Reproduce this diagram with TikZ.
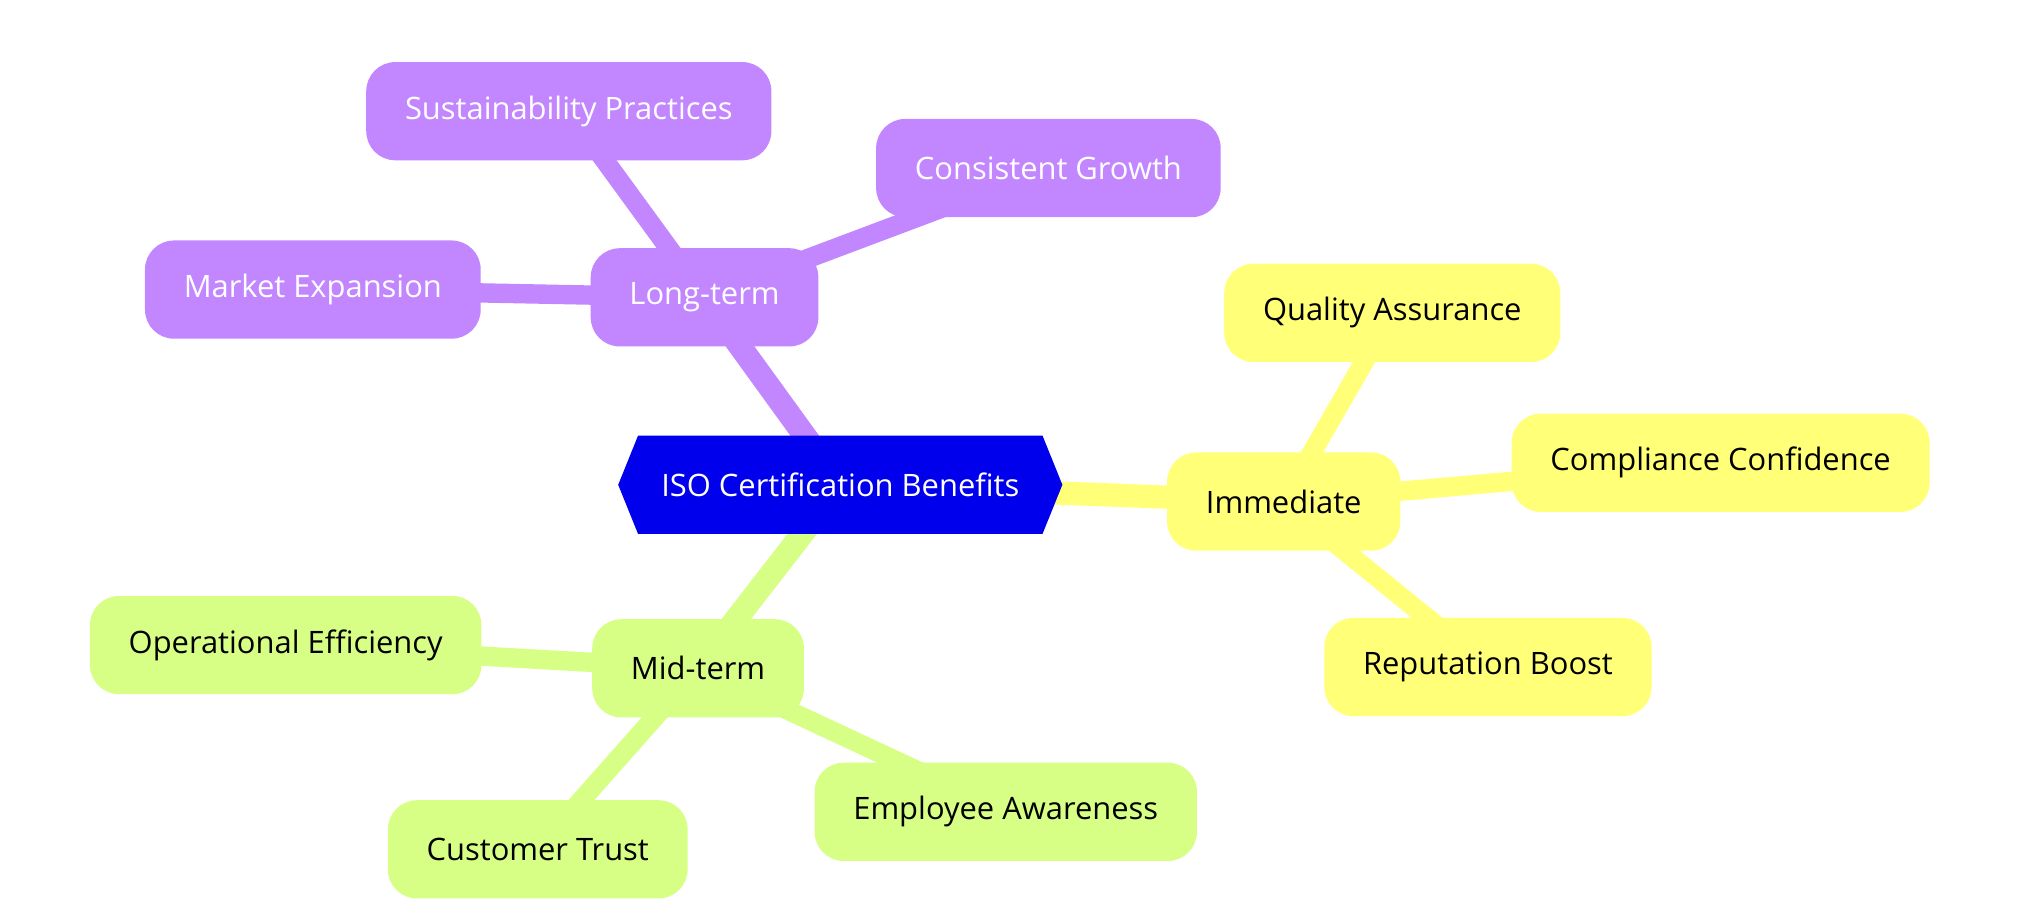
\documentclass[tikz,border=0pt]{standalone}
\usepackage{fontspec}
\setmainfont{Open Sans}
\usetikzlibrary{shapes.symbols,backgrounds}
\definecolor{rootblue}{RGB}{0,0,236}
\definecolor{longpurple}{RGB}{194,134,255}
\definecolor{nowyellow}{RGB}{255,255,120}
\definecolor{midgreen}{RGB}{215,255,134}

\begin{document}
\begin{tikzpicture}[
		x=0.2mm, y=-0.2mm,
		font=\fontsize{13.6}{16}\selectfont,
		idea/.style={rounded corners=4.5mm, minimum height=15.2mm, inner xsep=6mm},
		root/.style={signal, signal to=west and east, signal pointer angle=136, fill=rootblue, text=white, minimum height=15.2mm, inner xsep=3.6mm},
		longterm/.style={idea, fill=longpurple, text=white},
		immediate/.style={idea, fill=nowyellow},
		midterm/.style={idea, fill=midgreen},
		branch/.style={line width=3.6mm},
		twig/.style={line width=3mm},
	]
		\useasboundingbox (0,0) rectangle (1568,712);

		\node[root] (iso) at (650,375) {ISO Certification Benefits};

		\node[longterm] (long) at (545,230) {Long-term};
		\node[longterm] (sust) at (440,86) {Sustainability Practices};
		\node[longterm] (grow) at (811,130) {Consistent Growth};
		\node[longterm] (market) at (242,224) {Market Expansion};

		\node[immediate] (imm) at (993,388) {Immediate};
		\node[immediate] (quality) at (1077,242) {Quality Assurance};
		\node[immediate] (comply) at (1331,358) {Compliance Confidence};
		\node[immediate] (repute) at (1151,516) {Reputation Boost};

		\node[midterm] (mid) at (540,517) {Mid-term};
		\node[midterm] (oper) at (221,499) {Operational Efficiency};
		\node[midterm] (staff) at (778,628) {Employee Awareness};
		\node[midterm] (trust) at (416,657) {Customer Trust};

		\begin{scope}[on background layer]
			\draw[branch, longpurple] (iso.center) -- (long.center);
			\draw[branch, nowyellow] (iso.center) -- (imm.center);
			\draw[branch, midgreen] (iso.center) -- (mid.center);

			\draw[twig, longpurple] (long.center) -- (sust.center);
			\draw[twig, longpurple] (long.center) -- (grow.center);
			\draw[twig, longpurple] (long.center) -- (market.center);

			\draw[twig, nowyellow] (imm.center) -- (quality.center);
			\draw[twig, nowyellow] (imm.center) -- (comply.center);
			\draw[twig, nowyellow] (imm.center) -- (repute.center);

			\draw[twig, midgreen] (mid.center) -- (oper.center);
			\draw[twig, midgreen] (mid.center) -- (staff.center);
			\draw[twig, midgreen] (mid.center) -- (trust.center);
		\end{scope}
\end{tikzpicture}
\end{document}
